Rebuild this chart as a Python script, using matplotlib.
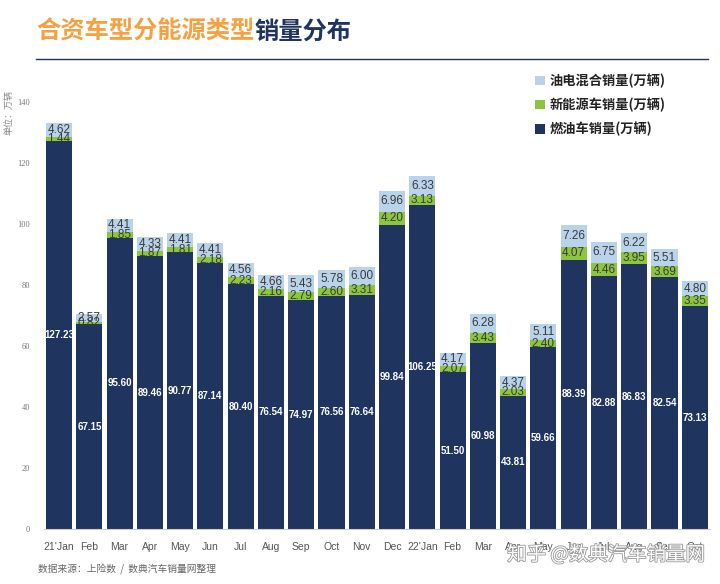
import matplotlib
matplotlib.use("Agg")
import matplotlib.pyplot as plt
import matplotlib.patheffects as pe
import numpy as np

plt.rcParams['font.family'] = ['Noto Sans CJK SC', 'DejaVu Sans']

# data (万辆)
months = ["21'Jan", "Feb", "Mar", "Apr", "May", "Jun", "Jul", "Aug", "Sep", "Oct", "Nov", "Dec",
          "22'Jan", "Feb", "Mar", "Apr", "May", "Jun", "Jul", "Aug", "Sep", "Oct"]
fuel = [127.23, 67.15, 95.60, 89.46, 90.77, 87.14, 80.40, 76.54, 74.97, 76.56, 76.64, 99.84,
        106.25, 51.50, 60.98, 43.81, 59.66, 88.39, 82.88, 86.83, 82.54, 73.13]
nev = [1.44, 0.82, 1.85, 1.87, 1.81, 2.18, 2.23, 2.16, 2.79, 2.60, 3.31, 4.20,
       3.13, 2.07, 3.43, 2.03, 2.40, 4.07, 4.46, 3.95, 3.69, 3.35]
hev = [4.62, 2.57, 4.41, 4.33, 4.41, 4.41, 4.56, 4.66, 5.43, 5.78, 6.00, 6.96,
       6.33, 4.17, 6.28, 4.37, 5.11, 7.26, 6.75, 6.22, 5.51, 4.80]
series_names = ['油电混合销量(万辆)', '新能源车销量(万辆)', '燃油车销量(万辆)']

NAVY = '#1f3560'
GREEN = '#8cc63f'
LBLUE = '#b9d3ea'
ORANGE = '#f5a042'
NUM_FONT = ['Liberation Sans', 'DejaVu Sans']

fig = plt.figure(figsize=(7.2, 5.84), dpi=100)
ax = fig.add_axes([0.061, 0.094, 0.925, 0.731])

x = np.arange(len(months))
fuel_a = np.array(fuel)
nev_a = np.array(nev)
hev_a = np.array(hev)
w = 0.86

b1 = ax.bar(x, fuel_a, w, color=NAVY, label=series_names[2])
b2 = ax.bar(x, nev_a, w, bottom=fuel_a, color=GREEN, label=series_names[1])
b3 = ax.bar(x, hev_a, w, bottom=fuel_a + nev_a, color=LBLUE, label=series_names[0])

# value labels
for i in x:
    ax.text(i, fuel_a[i] / 2, f'{fuel_a[i]:.2f}', ha='center', va='center', color='white',
            fontsize=7, fontweight='bold', family=NUM_FONT)
    ax.text(i, fuel_a[i] + nev_a[i] / 2, f'{nev_a[i]:.2f}', ha='center', va='center',
            color='#3a3a3a', fontsize=8.5, family=NUM_FONT)
    ax.text(i, fuel_a[i] + nev_a[i] + hev_a[i] / 2, f'{hev_a[i]:.2f}', ha='center', va='center',
            color='#3a3a3a', fontsize=8.5, family=NUM_FONT)

ax.set_xlim(-0.5, len(months) - 0.5)
ax.set_ylim(0, 140)
ax.set_yticks(np.arange(0, 141, 20))
ax.set_xticks(x)
ax.set_xticklabels(months, fontsize=7.5, color='#555555', family=NUM_FONT)
ax.tick_params(axis='y', length=0, labelsize=6, labelcolor='#777777', pad=10)
ax.tick_params(axis='x', length=0, pad=9)
for lab in ax.get_yticklabels():
    lab.set_family(['Liberation Serif', 'DejaVu Serif'])
for s in ['top', 'right', 'left']:
    ax.spines[s].set_visible(False)
ax.spines['bottom'].set_color('#d0d0d0')

# legend
leg = fig.legend(handles=[b3, b2, b1], labels=series_names, loc='upper left',
                 bbox_to_anchor=(0.727, 0.895), frameon=False, handlelength=0.7,
                 handleheight=0.7, handletextpad=0.4, labelspacing=0.75,
                 prop={'weight': 'bold', 'size': 9.5})
for t in leg.get_texts():
    t.set_color('#222222')

# unit label
fig.text(0.012, 0.808, '单位：万辆', rotation=90, fontsize=6.5, color='#888888', ha='center', va='center')

# title in two colours
t1 = fig.text(0.05, 0.945, '合资车型分能源类型', fontsize=17.5, fontweight='bold', color=ORANGE,
              ha='left', va='center')
fig.canvas.draw()
bb = t1.get_window_extent(renderer=fig.canvas.get_renderer())
fig.text(bb.x1 / fig.bbox.width, 0.945, '销量分布', fontsize=17.5, fontweight='bold',
         color=NAVY, ha='left', va='center')
fig.add_artist(plt.Line2D([0.05, 0.983], [0.899, 0.899], color=NAVY, lw=1.0,
                          transform=fig.transFigure))

# source and watermark
fig.text(0.053, 0.027, '数据来源：上险数  /  数典汽车销量网整理', fontsize=7, color='#666666',
         ha='left', va='center')
fig.text(0.98, 0.05, '知乎 @数典汽车销量网', fontsize=14, color='white', ha='right', va='center',
         path_effects=[pe.withStroke(linewidth=1.2, foreground='#999999')])

fig.savefig('out.png', dpi=100)
